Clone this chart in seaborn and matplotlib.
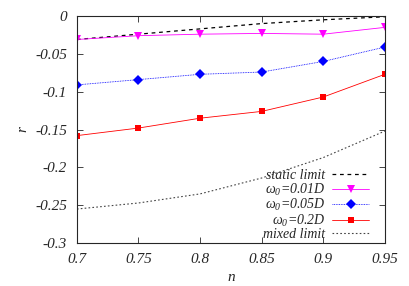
import numpy as np
import pandas as pd
import matplotlib
matplotlib.use("Agg")
import matplotlib.pyplot as plt
import seaborn as sns
from matplotlib.ticker import FuncFormatter

sns.set_style("ticks")
plt.rcParams['font.family'] = ['Liberation Serif', 'DejaVu Serif']
plt.rcParams['font.style'] = 'italic'
plt.rcParams['mathtext.fontset'] = 'custom'
plt.rcParams['mathtext.rm'] = 'Liberation Serif:italic'
plt.rcParams['mathtext.it'] = 'Liberation Serif:italic'
plt.rcParams['axes.unicode_minus'] = False

# data
n = [0.7, 0.75, 0.8, 0.85, 0.9, 0.95]
static_limit = [-0.031, -0.024, -0.017, -0.010, -0.005, -0.001]
w001 = [-0.031, -0.026, -0.024, -0.023, -0.024, -0.015]
w005 = [-0.091, -0.084, -0.077, -0.074, -0.060, -0.041]
w02 = [-0.158, -0.148, -0.135, -0.126, -0.107, -0.077]
mixed_limit = [-0.255, -0.247, -0.235, -0.214, -0.187, -0.152]

fig = plt.figure(figsize=(4.09, 2.86), dpi=100)
ax = fig.add_axes([0.188, 0.150, 0.753, 0.794])

sns.lineplot(x=n, y=static_limit, ax=ax, color='black', lw=0.9,
             label='static limit', linestyle=(0, (3, 3)))
sns.lineplot(x=n, y=w001, ax=ax, color='#ff00ff', lw=0.6, marker='v', ms=6,
             markeredgewidth=0, label=r'$\omega_0$=0.01D')
sns.lineplot(x=n, y=w005, ax=ax, color='#0000ff', lw=0.6, marker='D', ms=5,
             markeredgewidth=0, linestyle=(0, (1, 1)), label=r'$\omega_0$=0.05D')
sns.lineplot(x=n, y=w02, ax=ax, color='#ff0000', lw=0.6, marker='s', ms=5,
             markeredgewidth=0, label=r'$\omega_0$=0.2D')
sns.lineplot(x=n, y=mixed_limit, ax=ax, color='#444444', lw=0.8,
             linestyle=(0, (1.5, 2)), label='mixed limit')

ax.set_xlim(0.7, 0.95)
ax.set_ylim(-0.3, 0)
ax.set_xticks(np.arange(0.7, 0.951, 0.05))
ax.set_yticks(np.arange(-0.3, 0.001, 0.05))


def fmt_tick(v, p):
    v = round(v, 3)
    if abs(v) < 1e-9:
        return '0'
    return '%g' % v


ax.xaxis.set_major_formatter(FuncFormatter(fmt_tick))
ax.yaxis.set_major_formatter(FuncFormatter(fmt_tick))
ax.tick_params(direction='in', top=True, right=True, length=4, width=0.6,
               labelsize=11, pad=7)
for s in ax.spines.values():
    s.set_linewidth(0.8)
ax.set_xlabel('n', fontsize=11, labelpad=4)
ax.set_ylabel('r', fontsize=11, labelpad=4, rotation=90)

leg = ax.legend(loc='lower right', bbox_to_anchor=(0.95, 0.01),
                frameon=False, markerfirst=False,
                fontsize=10, handlelength=2.7, labelspacing=-0.05,
                borderaxespad=0, borderpad=0, handletextpad=0.5)

fig.savefig('out.png', dpi=100)
